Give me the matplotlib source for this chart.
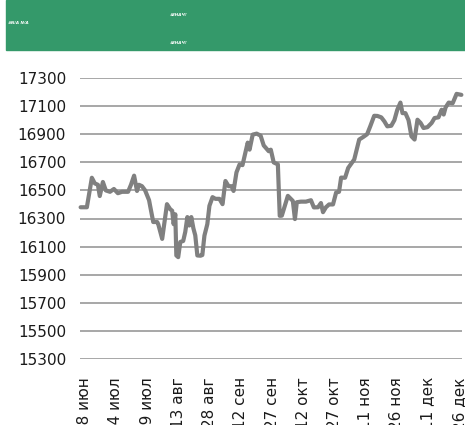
import matplotlib
matplotlib.use("Agg")
import matplotlib.pyplot as plt
from matplotlib.patches import Rectangle

# days counted from 28 jun
days = [-2, 1, 3.4, 4.8, 6.3, 7.2, 8.7, 10.1, 12.1, 14, 15.9, 17.9, 20.8, 22.2, 23.7,
        25.1, 26, 27.5, 29, 30.9, 31.4, 32.9, 34.8, 35.3, 37.2, 39.5, 41, 42, 42.7, 43.5,
        44, 44.9, 45.9, 47.3, 48.3, 49.3, 50.2, 51.2, 52.2, 53.1, 54.1, 55.6, 56.5, 57.5,
        58.9, 59.9, 61.4, 62.8, 64.7, 66.2, 67.6, 69.1, 70.5, 71.5, 72.9, 74.4, 75.8, 76.8,
        78.3, 79.2, 80.7, 82.6, 84.5, 86, 87, 88.4, 89.4, 90.8, 92.8, 93.7, 94.7, 97.6,
        100, 101, 101.9, 103.9, 106.3, 108.7, 110.1, 112.1, 113.5, 114.5, 115.9, 117.4,
        119.3, 120.8, 122.2, 123.2, 125.1, 126.6, 129.5, 131.9, 133.8, 135.7, 137.2, 139.1,
        140.6, 142.5, 144, 145.4, 147.3, 148.8, 150.2, 151.7, 152.7, 154.1, 155.6, 157,
        158.5, 159.9, 161.4, 162.8, 164.7, 166.7, 168.1, 170, 171.5, 172.5, 173.4, 174.9,
        176.8, 178.7, 181]
values = [16380, 16380, 16590, 16550, 16540, 16460, 16560, 16500, 16490, 16510, 16480,
          16490, 16490, 16540, 16605, 16496, 16540, 16530, 16500, 16430, 16390, 16275,
          16275, 16260, 16155, 16402, 16367, 16355, 16260, 16330, 16037, 16025, 16133,
          16140, 16205, 16310, 16250, 16310, 16230, 16180, 16037, 16035, 16040, 16178,
          16260, 16390, 16452, 16440, 16440, 16402, 16567, 16530, 16530, 16496, 16628,
          16685, 16680, 16744, 16840, 16790, 16897, 16904, 16890, 16820, 16803, 16779,
          16790, 16699, 16685, 16319, 16320, 16461, 16425, 16296, 16416, 16420, 16420,
          16430, 16379, 16380, 16410, 16345, 16380, 16400, 16400, 16485, 16490, 16591,
          16590, 16660, 16720, 16862, 16880, 16900, 16956, 17031, 17030, 17020, 16991,
          16956, 16960, 17000, 17074, 17125, 17050, 17050, 17000, 16885, 16862, 17003,
          16980, 16944, 16950, 16980, 17015, 17020, 17074, 17040, 17090, 17125, 17120,
          17187, 17180]

tick_labels = ["28 июн", "14 июл", "29 июл", "13 авг", "28 авг", "12 сен", "27 сен",
               "12 окт", "27 окт", "11 ноя", "26 ноя", "11 дек", "26 дек"]
y_ticks = [15300, 15500, 15700, 15900, 16100, 16300, 16500, 16700, 16900, 17100, 17300]

fig = plt.figure(figsize=(4.65, 4.25), dpi=100)

# green header band
fig.patches.append(Rectangle((6 / 465, 1 - 50 / 425), 1, 50 / 425,
                             transform=fig.transFigure, color="#34996a", zorder=0))
hdr = dict(color="white", fontsize=3, fontweight="bold", style="italic",
           transform=fig.transFigure)
fig.text(8 / 465, 1 - 23 / 425, "#N/A N/A", va="center", **hdr)
fig.text(170 / 465, 1 - 15 / 425, "#ЗНАЧ!", va="center", **hdr)
fig.text(170 / 465, 1 - 43 / 425, "#ЗНАЧ!", va="center", **hdr)

ax = fig.add_axes([80 / 465, 1 - 359 / 425, 382 / 465, 281 / 425])
ax.plot(days, values, color="#808080", lw=3, solid_joinstyle="round",
        solid_capstyle="round", zorder=3, clip_on=False)

ax.set_ylim(15300, 17300)
ax.set_yticks(y_ticks)
ax.set_yticklabels([str(v) for v in y_ticks])
ax.set_xlim(-2.3, 181.3)
ax.set_xticks([15 * i for i in range(len(tick_labels))])
ax.set_xticklabels(tick_labels, rotation=90, va="top", ha="center")

ax.grid(axis="y", color="#a0a0a0", lw=1.3)
ax.set_axisbelow(True)
for s in ax.spines.values():
    s.set_visible(False)
ax.tick_params(axis="both", length=0, labelsize=11, labelcolor="#1a1a1a")
ax.tick_params(axis="y", pad=10)
ax.tick_params(axis="x", pad=13)

fig.savefig("out.png", dpi=100)
